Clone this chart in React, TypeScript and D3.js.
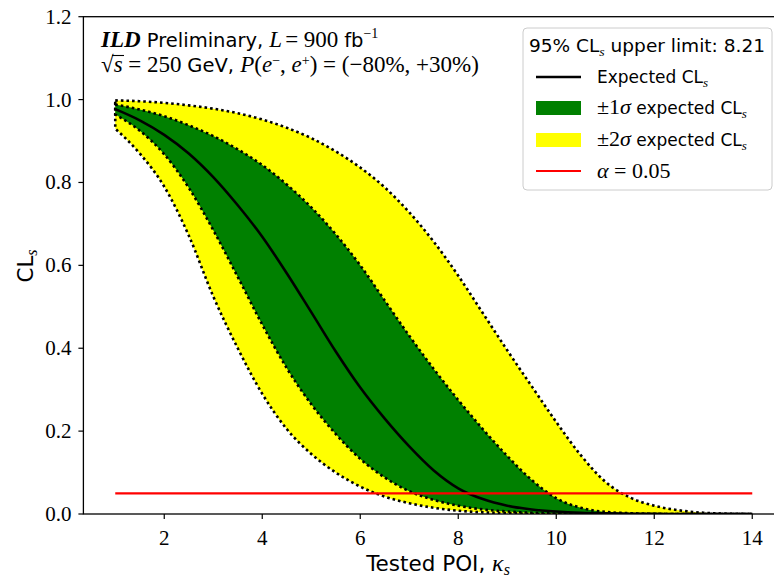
import * as d3 from "d3";

// tested POI grid and CLs curves
const poi = [1, 1.5, 2, 2.5, 3, 3.5, 4, 4.5, 5, 5.5, 6, 6.5, 7, 7.5, 8, 8.5, 9, 9.5, 10, 10.5, 11, 11.5, 12, 12.5, 13, 13.5, 14];
const expected = [0.977, 0.95, 0.915, 0.87, 0.813, 0.745, 0.669, 0.581, 0.487, 0.392, 0.305, 0.23, 0.163, 0.105, 0.062, 0.036, 0.02, 0.011, 0.006, 0.003, 0.0015, 0.0007, 0.0003, 0.0001, 0, 0, 0];
const plus1 = [0.988, 0.976, 0.96, 0.938, 0.912, 0.88, 0.842, 0.795, 0.74, 0.675, 0.6, 0.515, 0.43, 0.35, 0.275, 0.205, 0.14, 0.082, 0.038, 0.015, 0.005, 0.002, 0.0005, 0, 0, 0, 0];
const minus1 = [0.964, 0.925, 0.868, 0.787, 0.685, 0.572, 0.457, 0.352, 0.265, 0.193, 0.133, 0.088, 0.055, 0.034, 0.02, 0.011, 0.006, 0.003, 0.001, 0, 0, 0, 0, 0, 0, 0, 0];
const plus2 = [0.998, 0.996, 0.992, 0.986, 0.978, 0.967, 0.952, 0.932, 0.907, 0.875, 0.836, 0.788, 0.728, 0.657, 0.575, 0.485, 0.395, 0.308, 0.222, 0.142, 0.078, 0.04, 0.02, 0.009, 0.003, 0.001, 0];
const minus2 = [0.93, 0.87, 0.79, 0.672, 0.525, 0.4, 0.29, 0.205, 0.145, 0.1, 0.066, 0.042, 0.026, 0.015, 0.008, 0.004, 0.002, 0.001, 0, 0, 0, 0, 0, 0, 0, 0, 0];

const alpha = 0.05;
const upperLimit = "8.21";
const xTicks = [2, 4, 6, 8, 10, 12, 14];
const yTicks = [0, 0.2, 0.4, 0.6, 0.8, 1.0, 1.2];

const W = 774;
const H = 578;
const serif = "'Liberation Serif', serif";
const sans = "'DejaVu Sans', sans-serif";
const dots = "2.6 3";

export default function App() {
  const x = d3.scaleLinear().domain([0.35, 14.65]).range([83.4, 784.1]);
  const y = d3.scaleLinear().domain([0, 1.2]).range([514, 16.7]);

  const band = (lo: number[], hi: number[]) =>
    d3.area<number>()
      .x((d) => x(d))
      .y0((_, i) => y(lo[i]))
      .y1((_, i) => y(hi[i]))
      .curve(d3.curveMonotoneX)(poi) + "Z";

  const expLine = d3.line<number>()
    .x((d) => x(d))
    .y((_, i) => y(expected[i]))
    .curve(d3.curveMonotoneX)(poi);

  const [x0, x1] = x.range();
  const [yb, yt] = y.range();

  return (
    <svg width={W} height={H} style={{ position: "absolute", left: 0, top: 0, background: "#fff" }}>
      <defs>
        <clipPath id="plot">
          <rect x={x0} y={yt} width={x1 - x0} height={yb - yt} />
        </clipPath>
      </defs>

      <g clipPath="url(#plot)">
        <path d={band(minus2, plus2)} fill="#ffff00" stroke="#000" strokeWidth={2.6} strokeDasharray={dots} />
        <path d={band(minus1, plus1)} fill="#008000" stroke="#000" strokeWidth={2.6} strokeDasharray={dots} />
        <path d={expLine || ""} fill="none" stroke="#000" strokeWidth={2.6} />
        <line x1={x(poi[0])} x2={x(poi[poi.length - 1])} y1={y(alpha)} y2={y(alpha)} stroke="#ff0000" strokeWidth={2.2} />
      </g>

      {/* frame */}
      <rect x={x0} y={yt} width={x1 - x0} height={yb - yt} fill="none" stroke="#000" strokeWidth={1.3} />

      {xTicks.map((t) => (
        <g key={"x" + t}>
          <line x1={x(t)} x2={x(t)} y1={yb} y2={yb + 5} stroke="#000" strokeWidth={1.2} />
          <text x={x(t)} y={yb + 31} textAnchor="middle" fontFamily={serif} fontSize={21}>{t}</text>
        </g>
      ))}
      {yTicks.map((t) => (
        <g key={"y" + t}>
          <line x1={x0 - 5} x2={x0} y1={y(t)} y2={y(t)} stroke="#000" strokeWidth={1.2} />
          <text x={x0 - 12} y={y(t) + 7} textAnchor="end" fontFamily={serif} fontSize={21}>{t.toFixed(1)}</text>
        </g>
      ))}

      {/* axis labels */}
      <text x={438} y={571} textAnchor="middle" fontFamily={sans} fontSize={21.5}>
        Tested POI, <tspan fontFamily={serif} fontStyle="italic" fontSize={24}>κ</tspan>
        <tspan fontFamily={serif} fontStyle="italic" fontSize={16} dy={4}>s</tspan>
      </text>
      <text transform="translate(33,266) rotate(-90)" textAnchor="middle" fontFamily={sans} fontSize={21.5}>
        CL<tspan fontFamily={serif} fontStyle="italic" fontSize={16} dy={4}>s</tspan>
      </text>

      {/* annotation */}
      <text x={101} y={47} fontFamily={sans} fontSize={19.5}>
        <tspan fontFamily={serif} fontStyle="italic" fontWeight="bold" fontSize={23}>ILD</tspan>
        <tspan> Preliminary, </tspan>
        <tspan fontFamily={serif} fontStyle="italic" fontSize={23}>L</tspan>
        <tspan fontFamily={serif} fontSize={23} dx={3}>= 900 </tspan>
        <tspan>fb</tspan>
        <tspan fontFamily={serif} fontSize={14} dy={-9}>−1</tspan>
      </text>
      <line x1={112} x2={124} y1={55.5} y2={55.5} stroke="#000" strokeWidth={1.1} />
      <text x={101} y={72} fontFamily={serif} fontSize={23}>
        <tspan>√</tspan>
        <tspan fontStyle="italic">s</tspan>
        <tspan> = 250 </tspan>
        <tspan fontFamily={sans} fontSize={19.5}>GeV, </tspan>
        <tspan fontStyle="italic">P</tspan>
        <tspan>(</tspan>
        <tspan fontStyle="italic">e</tspan>
        <tspan fontSize={14} dy={-7}>−</tspan>
        <tspan dy={7}>, </tspan>
        <tspan fontStyle="italic">e</tspan>
        <tspan fontSize={14} dy={-7}>+</tspan>
        <tspan dy={7}>) = (−80%, +30%)</tspan>
      </text>

      {/* legend */}
      <g>
        <rect x={523} y={28} width={249} height={162} rx={4} fill="#fff" fillOpacity={0.8} stroke="#cccccc" strokeWidth={1} />
        <text x={529} y={52} fontFamily={sans} fontSize={17.5} textLength={236} lengthAdjust="spacingAndGlyphs">
          95% CL<tspan fontFamily={serif} fontStyle="italic" fontSize={13} dy={4}>s</tspan>
          <tspan dy={-4}> upper limit: {upperLimit}</tspan>
        </text>

        <line x1={536} x2={581} y1={77} y2={77} stroke="#000" strokeWidth={2.6} />
        <text x={597} y={83} fontFamily={sans} fontSize={17}>
          Expected CL<tspan fontFamily={serif} fontStyle="italic" fontSize={13} dy={4}>s</tspan>
        </text>

        <rect x={536} y={101} width={45} height={14} fill="#008000" />
        <text x={597} y={114} fontFamily={sans} fontSize={17}>
          <tspan fontFamily={serif} fontSize={22}>±1</tspan>
          <tspan fontFamily={serif} fontStyle="italic" fontSize={22}>σ</tspan> expected CL
          <tspan fontFamily={serif} fontStyle="italic" fontSize={13} dy={4}>s</tspan>
        </text>

        <rect x={536} y={133} width={45} height={14} fill="#ffff00" />
        <text x={597} y={146} fontFamily={sans} fontSize={17}>
          <tspan fontFamily={serif} fontSize={22}>±2</tspan>
          <tspan fontFamily={serif} fontStyle="italic" fontSize={22}>σ</tspan> expected CL
          <tspan fontFamily={serif} fontStyle="italic" fontSize={13} dy={4}>s</tspan>
        </text>

        <line x1={536} x2={581} y1={171} y2={171} stroke="#ff0000" strokeWidth={2.2} />
        <text x={597} y={178} fontFamily={serif} fontSize={22}>
          <tspan fontStyle="italic">α</tspan> = {alpha.toFixed(2)}
        </text>
      </g>
    </svg>
  );
}
